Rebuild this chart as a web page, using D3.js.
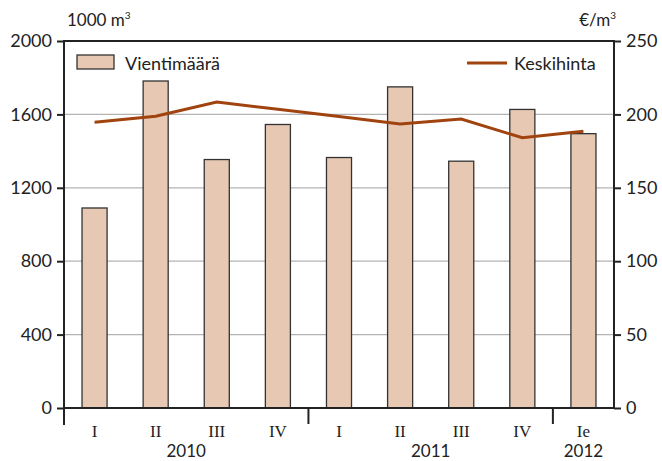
<!DOCTYPE html>
<html><head><meta charset="utf-8">
<script src="https://cdn.jsdelivr.net/npm/d3@7"></script>
<style>body{margin:0;background:#fff}svg{display:block}</style>
</head><body>
<script>
const quarters = ["I","II","III","IV","I","II","III","IV","Ie"];
const years = [{label:"2010", from:0, to:4},{label:"2011", from:4, to:8},{label:"2012", from:8, to:9}];
const volume = [1090, 1782, 1354, 1545, 1365, 1750, 1345, 1627, 1495];
const price = [194.6, 198.7, 208.4, 203.5, 198.5, 193.5, 196.9, 184.1, 188.5];
const leftTicks = [0, 400, 800, 1200, 1600, 2000];
const rightTicks = [0, 50, 100, 150, 200, 250];

const W = 662, H = 461;
const L = 64, R = 614, T = 41, B = 408;
const font = "Lato, 'Open Sans', sans-serif";
const svg = d3.select("body").append("svg").attr("width", W).attr("height", H);

const x = d3.scaleBand().domain(d3.range(quarters.length)).range([L, R]).paddingInner(0.59).paddingOuter(0.295);
const yL = d3.scaleLinear().domain([0, 2000]).range([B, T]);
const yR = d3.scaleLinear().domain([0, 250]).range([B, T]);

// grid
svg.append("g").selectAll("line").data(leftTicks.filter(d => d > 0 && d < 2000)).join("line")
  .attr("x1", L).attr("x2", R).attr("y1", d => yL(d)).attr("y2", d => yL(d))
  .attr("stroke", "#b3b3b3").attr("stroke-width", 1.2);

// bars
svg.append("g").selectAll("rect").data(volume).join("rect")
  .attr("x", (d, i) => x(i)).attr("width", x.bandwidth())
  .attr("y", d => yL(d)).attr("height", d => B - yL(d))
  .attr("fill", "#e6c8b3").attr("stroke", "#333").attr("stroke-width", 1.3);

// line
svg.append("path").datum(price)
  .attr("d", d3.line().x((d, i) => x(i) + x.bandwidth() / 2).y(d => yR(d)))
  .attr("fill", "none").attr("stroke", "#a1430f").attr("stroke-width", 3);

// top border
svg.append("line").attr("x1", L).attr("x2", R).attr("y1", T).attr("y2", T).attr("stroke", "#222").attr("stroke-width", 2);

// left axis
const gl = svg.append("g").attr("transform", `translate(${L},0)`)
  .call(d3.axisLeft(yL).tickValues(leftTicks).tickSize(7).tickPadding(5).tickFormat(d3.format("d")));
gl.select(".domain").remove();
gl.selectAll(".tick line").attr("stroke", "#222").attr("stroke-width", 2);
gl.selectAll("text").attr("font-family", font).attr("font-size", 18).attr("fill", "#222");
svg.append("line").attr("x1", L).attr("x2", L).attr("y1", T - 1).attr("y2", 425).attr("stroke", "#222").attr("stroke-width", 2);

// right axis
const gr = svg.append("g").attr("transform", `translate(${R},0)`)
  .call(d3.axisRight(yR).tickValues(rightTicks).tickSize(7).tickPadding(5));
gr.select(".domain").remove();
gr.selectAll(".tick line").attr("stroke", "#222").attr("stroke-width", 2);
gr.selectAll("text").attr("font-family", font).attr("font-size", 18).attr("fill", "#222");
svg.append("line").attr("x1", R).attr("x2", R).attr("y1", T - 1).attr("y2", B + 1).attr("stroke", "#222").attr("stroke-width", 2);

// bottom axis
svg.append("line").attr("x1", L).attr("x2", R).attr("y1", B).attr("y2", B).attr("stroke", "#222").attr("stroke-width", 2);
const step = x.step();
svg.append("g").selectAll("line").data(years.slice(1)).join("line")
  .attr("x1", d => L + step * d.from).attr("x2", d => L + step * d.from)
  .attr("y1", B).attr("y2", 424).attr("stroke", "#222").attr("stroke-width", 2);
svg.append("g").selectAll("text").data(quarters).join("text")
  .attr("x", (d, i) => x(i) + x.bandwidth() / 2).attr("y", 437)
  .attr("text-anchor", "middle").attr("font-family", "'Liberation Serif', serif").attr("font-size", 17).attr("fill", "#222")
  .text(d => d);
svg.append("g").selectAll("text").data(years).join("text")
  .attr("x", d => L + step * (d.from + d.to) / 2).attr("y", 457)
  .attr("text-anchor", "middle").attr("font-family", font).attr("font-size", 17).attr("fill", "#222")
  .text(d => d.label);

// units
svg.append("text").attr("x", 67).attr("y", 26).attr("font-family", font).attr("font-size", 17).attr("fill", "#222")
  .html('1000 m<tspan font-size="10" dy="-7">3</tspan>');
svg.append("text").attr("x", 616).attr("y", 26).attr("text-anchor", "end").attr("font-family", font).attr("font-size", 17).attr("fill", "#222")
  .html('€/m<tspan font-size="10" dy="-7">3</tspan>');

// legend
svg.append("rect").attr("x", 77).attr("y", 55).attr("width", 37).attr("height", 14)
  .attr("fill", "#e6c8b3").attr("stroke", "#333").attr("stroke-width", 1.3);
svg.append("text").attr("x", 125).attr("y", 70).attr("font-family", font).attr("font-size", 18).attr("fill", "#222").text("Vientimäärä");
svg.append("line").attr("x1", 467).attr("x2", 507).attr("y1", 63).attr("y2", 63).attr("stroke", "#a1430f").attr("stroke-width", 3);
svg.append("text").attr("x", 514).attr("y", 70).attr("font-family", font).attr("font-size", 18).attr("fill", "#222").text("Keskihinta");
</script>
</body></html>
